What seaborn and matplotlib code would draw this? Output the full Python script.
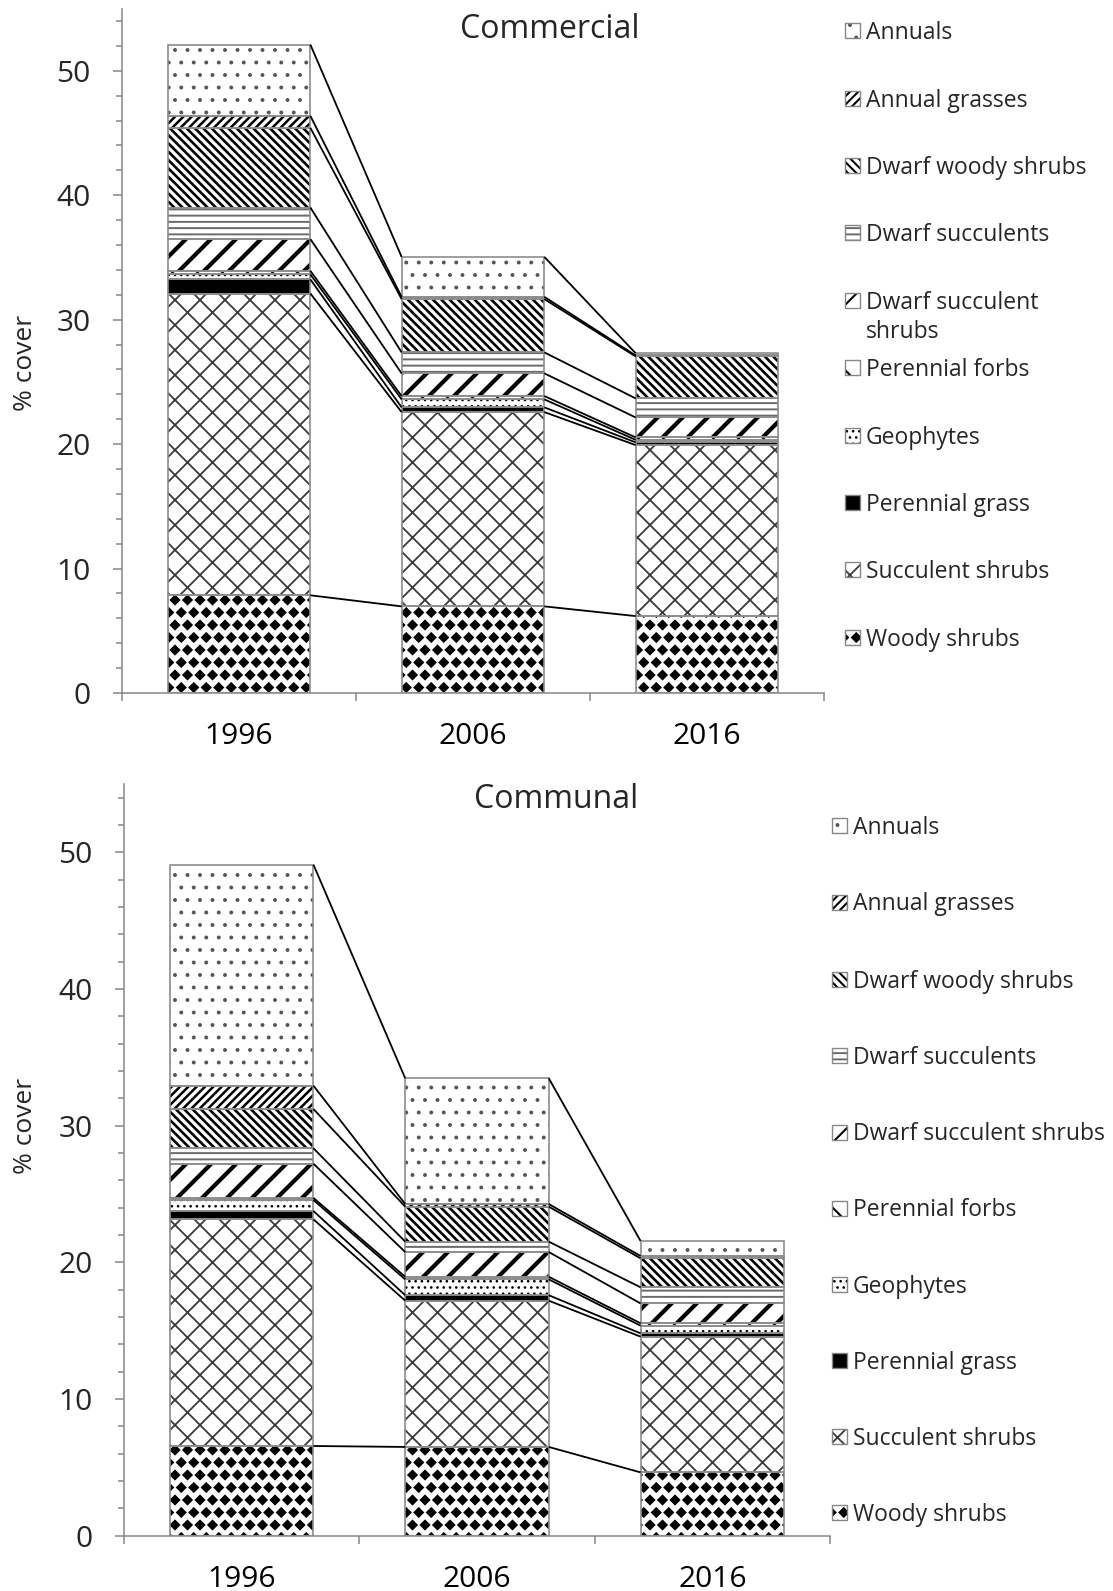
import numpy as np
import matplotlib
matplotlib.use("Agg")
import matplotlib.pyplot as plt
import matplotlib.hatch as mhatch
import matplotlib.patches as mpatches
from matplotlib.path import Path
from matplotlib.backend_bases import GraphicsContextBase
import seaborn as sns

# ---------------- data ----------------
years = ["1996", "2006", "2016"]
series = ["Woody shrubs", "Succulent shrubs", "Perennial grass", "Geophytes",
          "Perennial forbs", "Dwarf succulent shrubs", "Dwarf succulents",
          "Dwarf woody shrubs", "Annual grasses", "Annuals"]

com_woody_shrubs = [7.85, 6.96, 6.18]
com_succulent_shrubs = [24.25, 15.61, 13.74]
com_perennial_grass = [1.13, 0.38, 0.22]
com_geophytes = [0.40, 0.64, 0.20]
com_perennial_forbs = [0.29, 0.27, 0.20]
com_dwarf_succulent_shrubs = [2.55, 1.82, 1.60]
com_dwarf_succulents = [2.54, 1.69, 1.53]
com_dwarf_woody_shrubs = [6.40, 4.28, 3.37]
com_annual_grasses = [0.96, 0.18, 0.08]
com_annuals = [5.73, 3.21, 0.18]

cmn_woody_shrubs = [6.57, 6.50, 4.64]
cmn_succulent_shrubs = [16.58, 10.70, 9.93]
cmn_perennial_grass = [0.61, 0.40, 0.24]
cmn_geophytes = [0.80, 1.16, 0.56]
cmn_perennial_forbs = [0.16, 0.19, 0.18]
cmn_dwarf_succulent_shrubs = [2.50, 1.81, 1.45]
cmn_dwarf_succulents = [1.13, 0.76, 1.18]
cmn_dwarf_woody_shrubs = [2.87, 2.56, 2.12]
cmn_annual_grasses = [1.71, 0.19, 0.17]
cmn_annuals = [16.17, 9.20, 1.10]

commercial = [com_woody_shrubs, com_succulent_shrubs, com_perennial_grass, com_geophytes,
              com_perennial_forbs, com_dwarf_succulent_shrubs, com_dwarf_succulents,
              com_dwarf_woody_shrubs, com_annual_grasses, com_annuals]
communal = [cmn_woody_shrubs, cmn_succulent_shrubs, cmn_perennial_grass, cmn_geophytes,
            cmn_perennial_forbs, cmn_dwarf_succulent_shrubs, cmn_dwarf_succulents,
            cmn_dwarf_woody_shrubs, cmn_annual_grasses, cmn_annuals]

# ---------------- hatch tweaks ----------------
class Diamonds(mhatch.Shapes):
    size = 0.37
    filled = True

    def __init__(self, hatch, density):
        self.num_rows = hatch.count("*") * density
        path = Path.unit_regular_polygon(4)
        self.shape_vertices = path.vertices
        self.shape_codes = path.codes
        super().__init__(hatch, density)

mhatch._hatch_types[mhatch._hatch_types.index(mhatch.Stars)] = Diamonds

_orig_ghp = GraphicsContextBase.get_hatch_path


def _denser_hatch_path(self, density=8.0):
    return _orig_ghp(self, density)

GraphicsContextBase.get_hatch_path = _denser_hatch_path

# style per series: (face, hatch colour, hatch, hatch linewidth)
styles = {
    "Woody shrubs": ("white", "black", "*", 1.0),
    "Succulent shrubs": ("white", "#3a3a3a", "x", 1.3),
    "Perennial grass": ("black", "black", "", 1.0),
    "Geophytes": ("white", "black", "..", 1.0),
    "Perennial forbs": ("white", "black", "\\", 1.5),
    "Dwarf succulent shrubs": ("white", "black", "/", 3.0),
    "Dwarf succulents": ("white", "#6a6a6a", "--", 1.4),
    "Dwarf woody shrubs": ("white", "black", "\\\\\\", 1.9),
    "Annual grasses": ("white", "black", "///", 1.8),
    "Annuals": ("white", "#555555", ".", 1.0),
}

sns.set_theme(style="white")
plt.rcParams["font.family"] = ["Open Sans", "DejaVu Sans"]

W, H = 1113, 1591
fig = plt.figure(figsize=(W / 100, H / 100), dpi=100)
fig.patch.set_facecolor("white")

GRAY = "#868686"
BW = 0.61


def set_hlw(patch, lw):
    try:
        patch.set_hatch_linewidth(lw)
    except AttributeError:
        pass


def draw_panel(ax, data):
    x = np.arange(len(years))
    cum = np.zeros(len(years))
    tops = []
    for name, vals in zip(series, data):
        vals = np.asarray(vals, dtype=float)
        face, hc, hatch, hlw = styles[name]
        with plt.rc_context({"hatch.linewidth": hlw}):
            bars = ax.bar(x, vals, bottom=cum, width=BW, color=face,
                          edgecolor=hc, linewidth=0, hatch=hatch, zorder=2)
        for p in bars:
            set_hlw(p, hlw)
        ax.bar(x, vals, bottom=cum, width=BW, fill=False, edgecolor="#8c8c8c",
               linewidth=1.2, zorder=3)
        cum = cum + vals
        tops.append(cum.copy())
    # series lines
    for t in tops:
        for j in range(len(years) - 1):
            ax.plot([j + BW / 2, j + 1 - BW / 2], [t[j], t[j + 1]], color="black",
                    lw=1.3, zorder=4, solid_capstyle="butt")
    ax.set_xlim(-0.5, 2.5)
    ax.set_ylim(0, 55)
    ax.set_xticks(x, years)
    ax.set_xticks([-0.5, 0.5, 1.5, 2.5], minor=True)
    ax.set_yticks(np.arange(0, 51, 10))
    ax.set_yticks(np.arange(0, 55, 2), minor=True)
    ax.tick_params(axis="x", which="major", length=0, pad=21, labelsize=21.5, colors="black")
    ax.tick_params(axis="x", which="minor", length=6, width=1.1, color=GRAY, direction="out")
    ax.tick_params(axis="y", which="major", length=6.5, width=1.1, color=GRAY,
                   direction="out", pad=16, labelsize=21.5)
    ax.tick_params(axis="y", which="minor", length=4.5, width=1.1, color=GRAY, direction="out")
    ax.tick_params(axis="y", which="both", left=True)
    ax.tick_params(axis="x", which="both", bottom=True)
    for s in ["top", "right"]:
        ax.spines[s].set_visible(False)
    for s in ["left", "bottom"]:
        ax.spines[s].set_color(GRAY)
        ax.spines[s].set_linewidth(1.1)
    ax.set_facecolor("white")
    ax.grid(False)


ax1 = fig.add_axes([122 / W, 1 - 693 / H, 702 / W, (693 - 8.5) / H])
draw_panel(ax1, commercial)
ax2 = fig.add_axes([124 / W, 1 - 1535.8 / H, 706 / W, (1535.8 - 784) / H])
draw_panel(ax2, communal)

# titles and axis labels
fig.text(550 / W, 1 - 29 / H, "Commercial", ha="center", va="center", fontsize=23)
fig.text(556 / W, 1 - 800 / H, "Communal", ha="center", va="center", fontsize=23)
fig.text(26 / W, 1 - 363 / H, "% cover", rotation=90, ha="center", va="center", fontsize=19)
fig.text(26 / W, 1 - 1126 / H, "% cover", rotation=90, ha="center", va="center", fontsize=19)

# legends (reverse order: Annuals at top)
leg_labels_top = ["Annuals", "Annual grasses", "Dwarf woody shrubs", "Dwarf succulents",
                  "Dwarf succulent\nshrubs", "Perennial forbs", "Geophytes",
                  "Perennial grass", "Succulent shrubs", "Woody shrubs"]
leg_labels_bot = ["Annuals", "Annual grasses", "Dwarf woody shrubs", "Dwarf succulents",
                  "Dwarf succulent shrubs", "Perennial forbs", "Geophytes",
                  "Perennial grass", "Succulent shrubs", "Woody shrubs"]
leg_y_top = [30.4, 98.4, 165.4, 232.3, 300.3, 367.3, 435.3, 502.2, 569.2, 637.2]
leg_y_bot = [825, 902, 979, 1055, 1132, 1208, 1284.5, 1360.6, 1436.7, 1512.8]


def draw_legend(labels, ys, sx, tx):
    for name, lab, yc in zip(series[::-1], labels, ys):
        face, hc, hatch, hlw = styles[name]
        with plt.rc_context({"hatch.linewidth": min(hlw, 1.5)}):
            r = mpatches.Rectangle((sx / W, 1 - (yc + 7.5) / H), 15 / W, 15 / H,
                                   transform=fig.transFigure, facecolor=face,
                                   edgecolor=hc, linewidth=0, hatch=hatch)
        set_hlw(r, min(hlw, 1.5))
        fig.add_artist(r)
        fig.add_artist(mpatches.Rectangle((sx / W, 1 - (yc + 7.5) / H), 15 / W, 15 / H,
                                          transform=fig.transFigure, fill=False,
                                          edgecolor=GRAY, linewidth=1.0))
        fig.text(tx / W, 1 - (yc - 9.5) / H, lab, ha="left", va="top", fontsize=16.5,
                 linespacing=1.3)


draw_legend(leg_labels_top, leg_y_top, 845, 866)
draw_legend(leg_labels_bot, leg_y_bot, 832, 853)

fig.savefig("out.png", dpi=100, facecolor="white")
